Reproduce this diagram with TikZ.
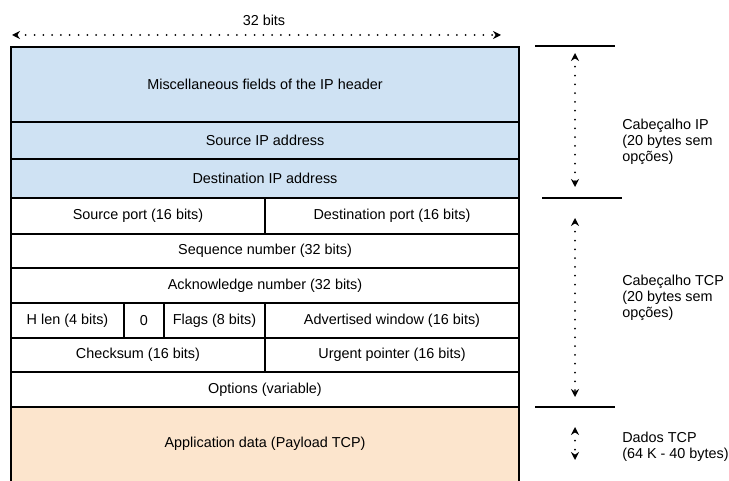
\documentclass[tikz,border=0pt]{standalone}
\usepackage{fontspec}
\setmainfont{Liberation Sans}
\usetikzlibrary{arrows.meta}

\definecolor{ipblue}{HTML}{CFE2F3}
\definecolor{dataorange}{HTML}{FCE5CD}

\tikzset{
	field/.style={draw, line width=1.1pt, inner sep=0pt, outer sep=0pt,
		align=center, font=\fontsize{10.8}{12}\selectfont},
	cell/.style 2 args={minimum width=#1*0.75pt, minimum height=#2*0.75pt},
	span/.style={line width=1.5pt, dash pattern=on 0pt off 6.6pt, line cap=round,
		{Stealth[length=6pt,width=6pt]}-{Stealth[length=6pt,width=6pt]}},
	rule/.style={line width=1.1pt},
	note/.style={anchor=west, align=left, inner sep=0pt,
		font=\fontsize{10.8}{12}\selectfont}
}

\begin{document}
\begin{tikzpicture}[x=0.75pt, y=-0.75pt]
	\clip (0,0) rectangle (729,481);
	\useasboundingbox (0,0) rectangle (729,481);
	
	% IP header
	\node[field, fill=ipblue, cell={508}{75}] (misc) at (265,84.5) {Miscellaneous fields of the IP header};
	\node[field, fill=ipblue, cell={508}{37}] (srcip) at (265,140.5) {Source IP address};
	\node[field, fill=ipblue, cell={508}{39}] (dstip) at (265,178.5) {Destination IP address};
	
	% TCP header
	\node[field, cell={254}{36}] (sport) at (138,216) {Source port (16 bits)};
	\node[field, cell={254}{36}] (dport) at (392,216) {Destination port (16 bits)};
	\node[field, cell={508}{34}] (seq) at (265,251) {Sequence number (32 bits)};
	\node[field, cell={508}{35}] (ack) at (265,285.5) {Acknowledge number (32 bits)};
	\node[field, cell={113}{35}] (hlen) at (67.5,320.5) {H len (4 bits)};
	\node[field, cell={40}{35}] (zero) at (144,320.5) {0};
	\node[field, cell={101}{35}] (flags) at (214.5,320.5) {Flags (8 bits)};
	\node[field, cell={254}{35}] (window) at (392,320.5) {Advertised window (16 bits)};
	\node[field, cell={254}{34}] (csum) at (138,355) {Checksum (16 bits)};
	\node[field, cell={254}{34}] (urgent) at (392,355) {Urgent pointer (16 bits)};
	\node[field, cell={508}{35}] (opts) at (265,389.5) {Options (variable)};
	
	% payload, open at the bottom
	\node[field, draw=none, fill=dataorange, cell={508}{74}] (data) at (265,444) {Application data (Payload TCP)};
	\draw[rule] (data.south west) -- (data.north west) -- (data.north east) -- (data.south east);
	
	% width
	\coordinate (wleft) at (12,35);
	\coordinate (wright) at (501,35);
	\draw[span] (wleft) -- (wright);
	\node[font=\fontsize{10.8}{12}\selectfont] (width) at (264,20) {32 bits};
	
	% sizes on the right
	\draw[rule] (535,46) -- (615,46);
	\draw[rule] (542,198) -- (622,198);
	\draw[rule] (535,407) -- (615,407);
	
	\coordinate (iptop) at (575,53);
	\coordinate (ipbot) at (575,187);
	\coordinate (tcptop) at (575,218);
	\coordinate (tcpbot) at (575,397);
	\coordinate (datatop) at (575,427);
	\coordinate (databot) at (575,460);
	\draw[span] (iptop) -- (ipbot);
	\draw[span] (tcptop) -- (tcpbot);
	\draw[span] (datatop) -- (databot);
	
	\node[note] (iplabel) at (622,142) {Cabeçalho IP\\(20 bytes sem\\opções)};
	\node[note] (tcplabel) at (622,298) {Cabeçalho TCP\\(20 bytes sem\\opções)};
	\node[note] (datalabel) at (622,447) {Dados TCP\\(64 K - 40 bytes)};
	
\end{tikzpicture}
\end{document}
